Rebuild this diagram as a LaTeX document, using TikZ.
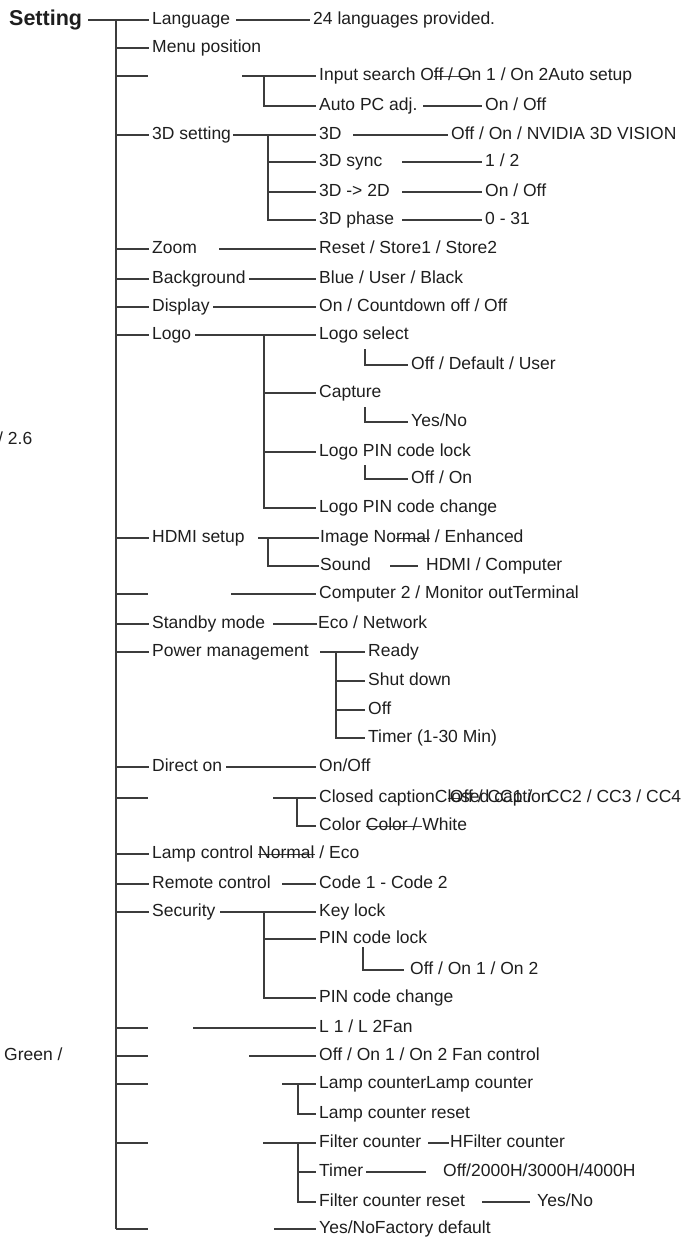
\documentclass[tikz,border=0pt]{standalone}
\usepackage{fontspec}
\setmainfont{Liberation Sans}
\definecolor{txt}{HTML}{1E1E1E}
\definecolor{lin}{HTML}{3C3C3C}
\newsavebox\strkbox
\newcommand\strk[1]{\sbox\strkbox{#1}\rlap{\color{lin}\rule[0.42ex]{\wd\strkbox}{0.9pt}}\usebox\strkbox}
\begin{document}
\begin{tikzpicture}[x=1pt,y=-1pt,
 lbl/.style={anchor=west,inner sep=0pt,text height=12.4pt,text depth=3.6pt,text=txt,font=\fontsize{17.5}{20}\selectfont},
 ln/.style={draw=lin,line width=1.2pt},
 tt/.style={ln,shorten >=3pt}]
\useasboundingbox (0,0) rectangle (692,1240);
% root and main spine
\node[lbl,font=\bfseries\fontsize{21.5}{24}\selectfont,text height=15pt,text depth=4.5pt] (set) at (9,20) {Setting};
\coordinate (s0) at (88,20);
\coordinate (mt) at (116,20);
\coordinate (mb) at (116,1229);
\draw[ln] (mt) -- (mb);
% Language
\node[lbl] (lang) at (152,20) {Language};
\draw[tt] (s0) -- (lang.west);
\node[lbl] (langv) at (313,20) {24 languages provided.};
\coordinate (langj) at (236,20);
\draw[tt] (langj) -- (langv.west);
% Menu position
\node[lbl] (menu) at (152,48) {Menu position};
\draw[tt] (mt |- menu.west) -- (menu.west);
% Input search / Auto PC
\coordinate (e1) at (148,76);
\draw[ln] (mt |- e1) -- (e1);
\node[lbl] (inp) at (319,76) {Input search O\strk{ff / O}n 1 / On 2Auto setup};
\coordinate (inpa) at (242,76); \coordinate (inpb) at (264,76);
\draw[tt] (inpa) -- (inp.west);
\node[lbl] (apc) at (319,106) {Auto PC adj.};
\draw[tt] (inpb) |- (apc.west);
\node[lbl] (apcv) at (485,106) {On / Off};
\coordinate (apcj) at (423,106);
\draw[tt] (apcj) -- (apcv.west);
% 3D setting
\node[lbl] (tds) at (152,135) {3D setting};
\draw[tt] (mt |- tds.west) -- (tds.west);
\coordinate (tdsa) at (233,135); \coordinate (tdsb) at (268,135);
\node[lbl] (td) at (319,135) {3D};
\draw[tt] (tdsa) -- (td.west);
\node[lbl] (tdsy) at (319,162) {3D sync};
\node[lbl] (td2) at (319,192) {3D -> 2D};
\node[lbl] (tdp) at (319,220) {3D phase};
\draw[tt] (tdsb) |- (tdsy.west);
\draw[tt] (tdsb) |- (td2.west);
\draw[tt] (tdsb) |- (tdp.west);
\node[lbl] (tdv) at (451,135) {Off / On / NVIDIA 3D VISION};
\coordinate (tdj) at (353,135);
\draw[tt] (tdj) -- (tdv.west);
\node[lbl] (tdsyv) at (485,162) {1 / 2};
\coordinate (tdsyj) at (402,162);
\draw[tt] (tdsyj) -- (tdsyv.west);
\node[lbl] (td2v) at (485,192) {On / Off};
\coordinate (td2j) at (402,192);
\draw[tt] (td2j) -- (td2v.west);
\node[lbl] (tdpv) at (485,220) {0 - 31};
\coordinate (tdpj) at (402,220);
\draw[tt] (tdpj) -- (tdpv.west);
% Zoom
\node[lbl] (zoom) at (152,249) {Zoom};
\draw[tt] (mt |- zoom.west) -- (zoom.west);
\node[lbl] (zoomv) at (319,249) {Reset / Store1 / Store2};
\coordinate (zoomj) at (219,249);
\draw[tt] (zoomj) -- (zoomv.west);
% Background
\node[lbl] (bg) at (152,279) {Background};
\draw[tt] (mt |- bg.west) -- (bg.west);
\node[lbl] (bgv) at (319,279) {Blue / User / Black};
\coordinate (bgj) at (249,279);
\draw[tt] (bgj) -- (bgv.west);
% Display
\node[lbl] (disp) at (152,307) {Display};
\draw[tt] (mt |- disp.west) -- (disp.west);
\node[lbl] (dispv) at (319,307) {On / Countdown off / Off};
\coordinate (dispj) at (213,307);
\draw[tt] (dispj) -- (dispv.west);
% Logo
\node[lbl] (logo) at (152,335) {Logo};
\draw[tt] (mt |- logo.west) -- (logo.west);
\coordinate (logoa) at (195,335); \coordinate (logob) at (264,335);
\node[lbl] (lsel) at (319,335) {Logo select};
\draw[tt] (logoa) -- (lsel.west);
\node[lbl] (cap) at (319,393) {Capture};
\node[lbl] (lpl) at (319,452) {Logo PIN code lock};
\node[lbl] (lpc) at (319,508) {Logo PIN code change};
\draw[tt] (logob) |- (cap.west);
\draw[tt] (logob) |- (lpl.west);
\draw[tt] (logob) |- (lpc.west);
\node[lbl] (lselv) at (411,365) {Off / Default / User};
\coordinate (lselj) at (365,349);
\draw[tt] (lselj) |- (lselv.west);
\node[lbl] (capv) at (411,422) {Yes/No};
\coordinate (capj) at (365,407);
\draw[tt] (capj) |- (capv.west);
\node[lbl] (lplv) at (411,479) {Off / On};
\coordinate (lplj) at (365,465);
\draw[tt] (lplj) |- (lplv.west);
% HDMI setup
\node[lbl] (hdmi) at (152,538) {HDMI setup};
\draw[tt] (mt |- hdmi.west) -- (hdmi.west);
\coordinate (hdmia) at (258,538); \coordinate (hdmib) at (268,538);
\node[lbl] (img) at (320,538) {Image No\strk{rmal} / Enhanced};
\draw[ln,shorten >=1pt] (hdmia) -- (img.west);
\node[lbl] (snd) at (320,566) {Sound};
\draw[ln,shorten >=1pt] (hdmib) |- (snd.west);
\node[lbl] (sndv) at (426,566) {HDMI / Computer};
\coordinate (sndj) at (390,566);
\draw[ln,shorten >=8pt] (sndj) -- (sndv.west);
% Computer 2 / Monitor out
\coordinate (e2) at (148,594);
\draw[ln] (mt |- e2) -- (e2);
\node[lbl] (comp) at (319,594) {Computer 2 / Monitor outTerminal};
\coordinate (compj) at (231,594);
\draw[tt] (compj) -- (comp.west);
% Standby mode
\node[lbl] (stby) at (152,624) {Standby mode};
\draw[tt] (mt |- stby.west) -- (stby.west);
\node[lbl] (stbyv) at (318,624) {Eco / Network};
\coordinate (stbyj) at (273,624);
\draw[ln,shorten >=1pt] (stbyj) -- (stbyv.west);
% Power management
\node[lbl] (pm) at (152,652) {Power management};
\draw[tt] (mt |- pm.west) -- (pm.west);
\coordinate (pma) at (320,652); \coordinate (pmb) at (336,652);
\node[lbl] (rdy) at (368,652) {Ready};
\draw[tt] (pma) -- (rdy.west);
\node[lbl] (sd) at (368,681) {Shut down};
\node[lbl] (pmoff) at (368,710) {Off};
\node[lbl] (tmr) at (368,738) {Timer (1-30 Min)};
\draw[tt] (pmb) |- (sd.west);
\draw[tt] (pmb) |- (pmoff.west);
\draw[tt] (pmb) |- (tmr.west);
% Direct on
\node[lbl] (don) at (152,767) {Direct on};
\draw[tt] (mt |- don.west) -- (don.west);
\node[lbl] (donv) at (319,767) {On/Off};
\coordinate (donj) at (226,767);
\draw[tt] (donj) -- (donv.west);
% Closed caption
\coordinate (e3) at (148,798);
\draw[ln] (mt |- e3) -- (e3);
\coordinate (cca) at (273,798); \coordinate (ccb) at (297,798);
\node[lbl] (cc) at (319,798) {Closed caption\rlap{C\strk{lo}sed caption}\rlap{\hspace{15pt}Off / CC1 /}\hspace{112pt}CC2 / CC3 / CC4};
\draw[tt] (cca) -- (cc.west);
\node[lbl] (col) at (319,826) {Color \strk{Color / }White};
\draw[tt] (ccb) |- (col.west);
% Lamp control
\node[lbl] (lc) at (152,854) {Lamp control \strk{Normal} / Eco};
\draw[tt] (mt |- lc.west) -- (lc.west);
% Remote control
\node[lbl] (rc) at (152,884) {Remote control};
\draw[tt] (mt |- rc.west) -- (rc.west);
\node[lbl] (rcv) at (319,884) {Code 1 - Code 2};
\coordinate (rcj) at (282,884);
\draw[tt] (rcj) -- (rcv.west);
% Security
\node[lbl] (sec) at (152,912) {Security};
\draw[tt] (mt |- sec.west) -- (sec.west);
\coordinate (seca) at (220,912); \coordinate (secb) at (264,912);
\node[lbl] (kl) at (319,912) {Key lock};
\draw[tt] (seca) -- (kl.west);
\node[lbl] (pcl) at (319,939) {PIN code lock};
\node[lbl] (pcc) at (319,998) {PIN code change};
\draw[tt] (secb) |- (pcl.west);
\draw[tt] (secb) |- (pcc.west);
\node[lbl] (pclv) at (410,970) {Off / On 1 / On 2};
\coordinate (pclj) at (363,947);
\draw[ln,shorten >=6pt] (pclj) |- (pclv.west);
% Fan
\coordinate (e4) at (148,1028);
\draw[ln] (mt |- e4) -- (e4);
\node[lbl] (fan) at (319,1028) {L 1 / L 2Fan};
\coordinate (fanj) at (193,1028);
\draw[tt] (fanj) -- (fan.west);
\coordinate (e5) at (148,1056);
\draw[ln] (mt |- e5) -- (e5);
\node[lbl] (fanc) at (319,1056) {Off / On 1 / On 2 Fan control};
\coordinate (fancj) at (249,1056);
\draw[tt] (fancj) -- (fanc.west);
\node[lbl] (green) at (4,1056) {Green /};
\node[lbl] (two6) at (-2,440) {/ 2.6};
% Lamp counter
\coordinate (e6) at (148,1084);
\draw[ln] (mt |- e6) -- (e6);
\coordinate (lca) at (282,1084); \coordinate (lcb) at (298,1084);
\node[lbl] (lcnt) at (319,1084) {Lamp counterLamp counter};
\draw[tt] (lca) -- (lcnt.west);
\node[lbl] (lcr) at (319,1114) {Lamp counter reset};
\draw[tt] (lcb) |- (lcr.west);
% Filter counter
\coordinate (e7) at (148,1143);
\draw[ln] (mt |- e7) -- (e7);
\coordinate (fca) at (263,1143); \coordinate (fcb) at (298,1143);
\node[lbl] (fc) at (319,1143) {Filter counter};
\draw[tt] (fca) -- (fc.west);
\node[lbl] (ftm) at (319,1172) {Timer};
\node[lbl] (fcr) at (319,1202) {Filter counter reset};
\draw[tt] (fcb) |- (ftm.west);
\draw[tt] (fcb) |- (fcr.west);
\node[lbl] (fcv) at (450,1143) {HFilter counter};
\coordinate (fcj) at (428,1143);
\draw[ln,shorten >=1pt] (fcj) -- (fcv.west);
\node[lbl] (ftmv) at (443,1172) {Off/2000H/3000H/4000H};
\coordinate (ftmj) at (366,1172);
\draw[ln,shorten >=17pt] (ftmj) -- (ftmv.west);
\node[lbl] (fcrv) at (537,1202) {Yes/No};
\coordinate (fcrj) at (482,1202);
\draw[ln,shorten >=7pt] (fcrj) -- (fcrv.west);
% Factory default
\coordinate (e8) at (148,1229);
\draw[ln] (mb) -- (e8);
\node[lbl] (fd) at (319,1229) {Yes/NoFactory default};
\coordinate (fdj) at (274,1229);
\draw[tt] (fdj) -- (fd.west);
\end{tikzpicture}
\end{document}
